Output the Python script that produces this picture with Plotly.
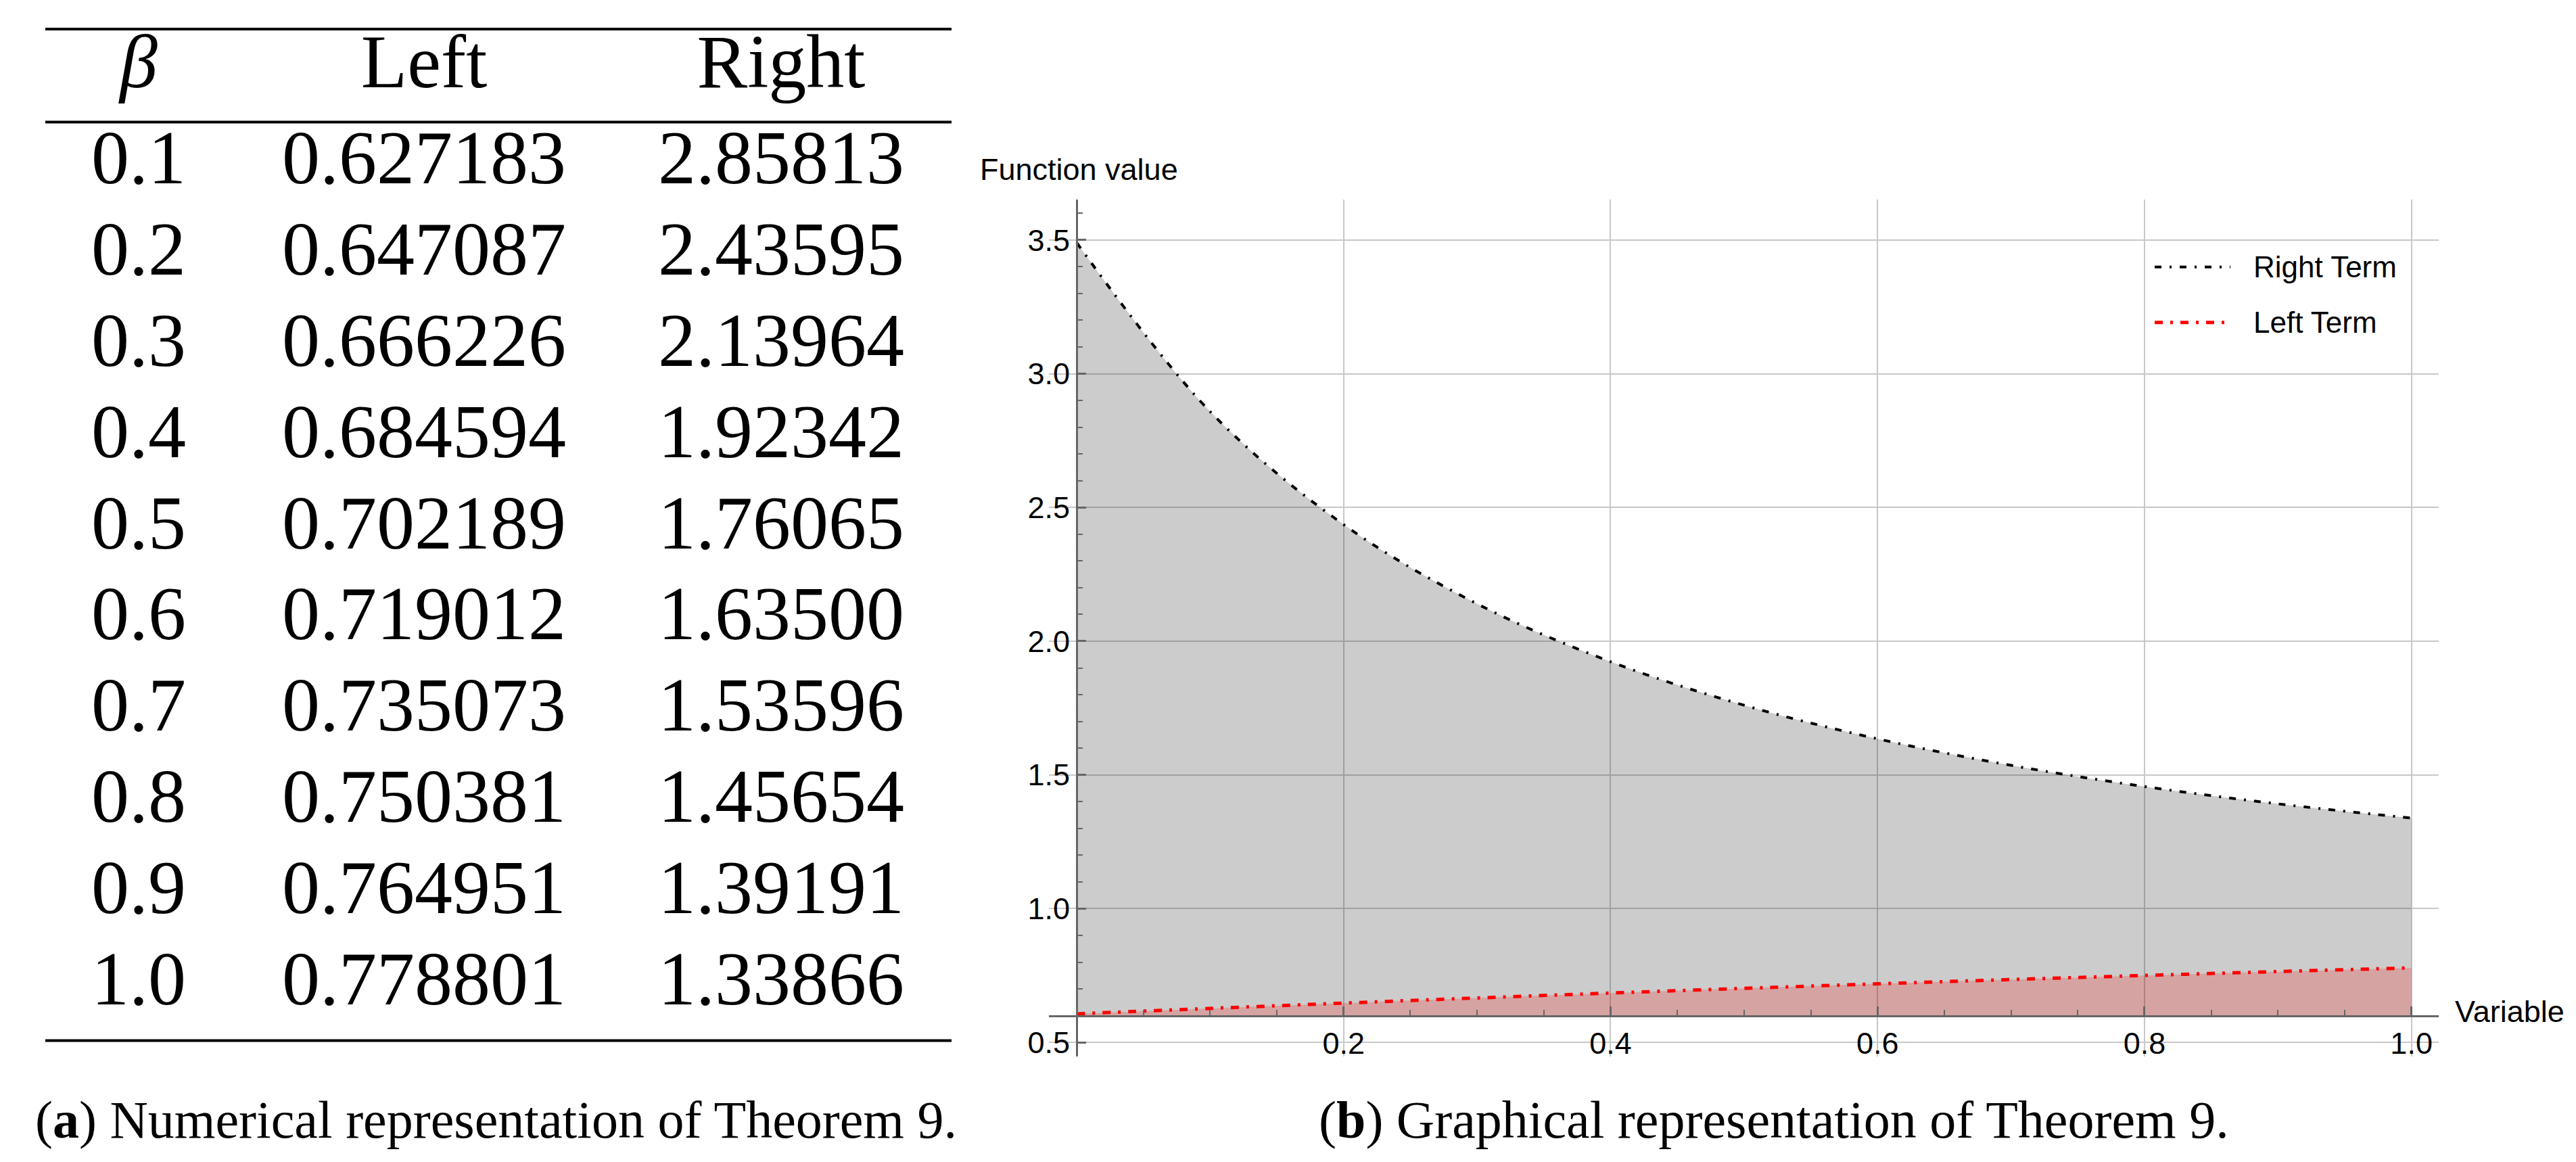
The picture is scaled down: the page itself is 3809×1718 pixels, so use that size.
import plotly.graph_objects as go

# ---------------- data ----------------
BETA = [0.1, 0.2, 0.3, 0.4, 0.5, 0.6, 0.7, 0.8, 0.9, 1.0]
LEFT = [0.627183, 0.647087, 0.666226, 0.684594, 0.702189,
        0.719012, 0.735073, 0.750381, 0.764951, 0.778801]
RIGHT = [2.85813, 2.43595, 2.13964, 1.92342, 1.76065,
         1.63500, 1.53596, 1.45654, 1.39191, 1.33866]
HEADERS = ["<i>β</i>", "Left", "Right"]
SERIES_NAMES = ["Right Term", "Left Term"]

# curve values (table values plus the starting point)
CURVE_X = [0.0] + BETA
RIGHT_CURVE = [3.49] + RIGHT
LEFT_CURVE = [0.607] + LEFT

X_TICKS = [0.2, 0.4, 0.6, 0.8, 1.0]
Y_TICKS = [0.5, 1.0, 1.5, 2.0, 2.5, 3.0, 3.5]

# ---------------- layout constants ----------------
W, H = 3809, 1718
AXIS_Y = 0.6          # where the horizontal axis crosses
XR = [-0.0208, 1.0203]
YR = [0.448, 3.65]
XD = [1543 / W, 3597.7 / W]
YD = [1 - 1558.3 / H, 1 - 288.3 / H]

x_axis_pos = YD[0] + (AXIS_Y - YR[0]) / (YR[1] - YR[0]) * (YD[1] - YD[0])
y_axis_pos = XD[0] + (0 - XR[0]) / (XR[1] - XR[0]) * (XD[1] - XD[0])

SANS = "Liberation Sans, Arial, sans-serif"
SERIF = "Liberation Serif, Times New Roman, serif"
AXCOL = "#666666"
GRIDCOL = "#c8c8c8"

RIGHT_LINE = dict(color="black", width=4, dash="10px,12px,3px,12px")
LEFT_LINE = dict(color="red", width=5, dash="12px,11px,4px,11px")

fig = go.Figure()

# ---- graph (b) ----
base = [AXIS_Y] * len(CURVE_X)
fig.add_trace(go.Scatter(x=CURVE_X, y=base, mode="lines", line=dict(width=0),
                         showlegend=False, hoverinfo="skip"))
fig.add_trace(go.Scatter(x=CURVE_X, y=RIGHT_CURVE, mode="lines", name=SERIES_NAMES[0],
                         line=dict(RIGHT_LINE, shape="spline"),
                         fill="tonexty", fillcolor="rgba(0,0,0,0.2)",
                         showlegend=False))
fig.add_trace(go.Scatter(x=CURVE_X, y=base, mode="lines", line=dict(width=0),
                         showlegend=False, hoverinfo="skip"))
fig.add_trace(go.Scatter(x=CURVE_X, y=LEFT_CURVE, mode="lines", name=SERIES_NAMES[1],
                         line=dict(LEFT_LINE, shape="spline"),
                         fill="tonexty", fillcolor="rgba(255,0,0,0.2)",
                         showlegend=False))

# ---- table (a) as text on a hidden axis ----
ROW0_PX, ROW_STEP = 236, 135.2
COL_PX = [197, 619, 1147]
HEADER_ROW = -1.058
rows = list(range(len(BETA)))
cols_text = [
    [f"{b:.1f}" for b in BETA],
    [f"{v:.6f}" for v in LEFT],
    [f"{v:.5f}" for v in RIGHT],
]
for ci, texts in enumerate(cols_text):
    fig.add_trace(go.Scatter(
        x=[COL_PX[ci]] * len(texts) + [COL_PX[ci]],
        y=rows + [HEADER_ROW],
        text=texts + [HEADERS[ci]],
        mode="text", textposition="middle center",
        textfont=dict(family=SERIF, size=112, color="black"),
        xaxis="x2", yaxis="y2", showlegend=False, hoverinfo="skip"))


def px_to_row(p):
    return (p - ROW0_PX) / ROW_STEP


shapes = []
for p in (35, 173, 1535):
    shapes.append(dict(type="line", xref="x2", yref="y2", x0=59, x1=1399,
                       y0=px_to_row(p), y1=px_to_row(p),
                       line=dict(color="black", width=4)))

# ---- legend (drawn to match the long line samples of the original) ----
annotations = []
LEG_Y = [388, 470]
for name, style, ly in zip(SERIES_NAMES, [RIGHT_LINE, LEFT_LINE], LEG_Y):
    yp = 1 - ly / H
    shapes.append(dict(type="line", xref="paper", yref="paper",
                       x0=3178 / W, x1=3290 / W, y0=yp, y1=yp, line=style))
    annotations.append(dict(text=name, x=3322 / W, y=yp, xref="paper", yref="paper",
                            xanchor="left", yanchor="middle", showarrow=False,
                            font=dict(family=SANS, size=44, color="black")))

annotations += [
    dict(text="Function value", x=1439 / W, y=1 - 243 / H, xref="paper", yref="paper",
         xanchor="left", yanchor="middle", showarrow=False,
         font=dict(family=SANS, size=45, color="black")),
    dict(text="Variable", x=3620 / W, y=1 - 1492 / H, xref="paper", yref="paper",
         xanchor="left", yanchor="middle", showarrow=False,
         font=dict(family=SANS, size=45, color="black")),
    dict(text="(<b>a</b>) Numerical representation of Theorem 9.",
         x=725 / W, y=1 - 1652 / H, xref="paper", yref="paper",
         xanchor="center", yanchor="middle", showarrow=False,
         font=dict(family=SERIF, size=78, color="black")),
    dict(text="(<b>b</b>) Graphical representation of Theorem 9.",
         x=2615 / W, y=1 - 1652 / H, xref="paper", yref="paper",
         xanchor="center", yanchor="middle", showarrow=False,
         font=dict(family=SERIF, size=78, color="black")),
]

fig.update_layout(
    width=W, height=H,
    margin=dict(l=0, r=0, t=0, b=0),
    paper_bgcolor="white", plot_bgcolor="white",
    shapes=shapes,
    annotations=annotations,
    showlegend=False,
    xaxis=dict(domain=XD, range=XR, anchor="free", position=x_axis_pos,
               tickmode="array", tickvals=X_TICKS,
               ticktext=[f"{v:.1f}" for v in X_TICKS],
               ticks="inside", ticklen=13, tickwidth=3, tickcolor=AXCOL,
               showline=True, linecolor=AXCOL, linewidth=3,
               showgrid=True, gridcolor=GRIDCOL, gridwidth=2, zeroline=False,
               tickfont=dict(family=SANS, size=45, color="black"),
               minor=dict(tickmode="linear", tick0=0, dtick=0.05, ticks="inside",
                          ticklen=8, tickwidth=2, tickcolor=AXCOL, showgrid=False)),
    yaxis=dict(domain=YD, range=YR, anchor="free", position=y_axis_pos,
               tickmode="array", tickvals=Y_TICKS,
               ticktext=[f"{v:.1f}" for v in Y_TICKS],
               ticks="inside", ticklen=12, tickwidth=3, tickcolor=AXCOL,
               showline=True, linecolor=AXCOL, linewidth=3,
               showgrid=True, gridcolor=GRIDCOL, gridwidth=2, zeroline=False,
               tickfont=dict(family=SANS, size=45, color="black"),
               minor=dict(tickmode="linear", tick0=0, dtick=0.1, ticks="inside",
                          ticklen=7, tickwidth=2, tickcolor=AXCOL, showgrid=False)),
    xaxis2=dict(domain=[0, 1500 / W], range=[0, 1500], visible=False,
                anchor="y2", fixedrange=True),
    yaxis2=dict(domain=[0, 1], range=[px_to_row(H), px_to_row(0)], visible=False,
                anchor="x2", fixedrange=True),
)

fig.write_html("out.html")
